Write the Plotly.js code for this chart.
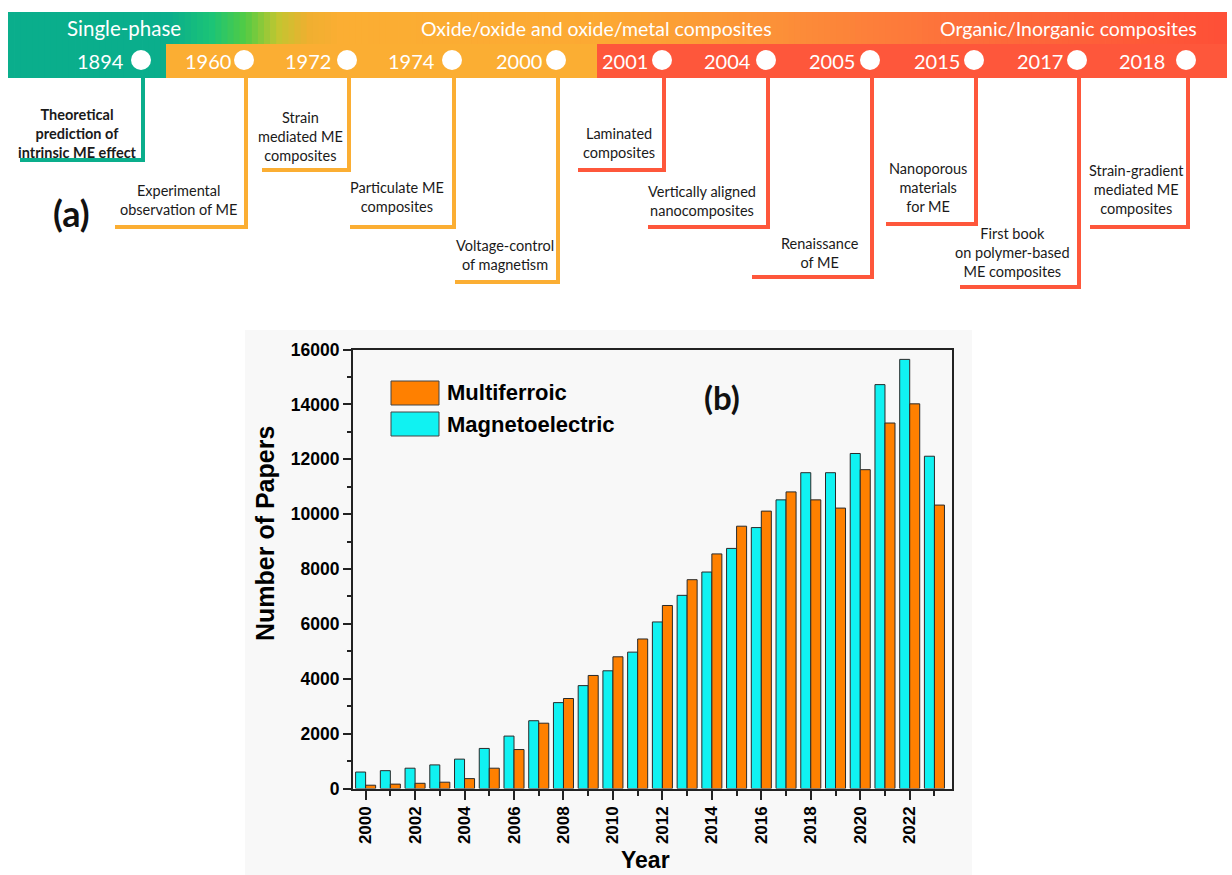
<!DOCTYPE html>
<html>
<head>
<meta charset="utf-8">
<script src="https://cdn.plot.ly/plotly-3.0.1.min.js"></script>
<style>html,body{margin:0;padding:0;background:#fff;}#chart{width:1232px;height:875px;}</style>
</head>
<body>
<div id="chart"></div>
<script>
// ---------- DATA ----------
const years = [2000,2001,2002,2003,2004,2005,2006,2007,2008,2009,2010,2011,2012,2013,2014,2015,2016,2017,2018,2019,2020,2021,2022,2023];
const magnetoelectric = [600,650,740,860,1070,1460,1910,2470,3130,3750,4290,4970,6070,7040,7890,8750,9510,10520,11510,11510,12210,14720,15640,12110];
const multiferroic = [120,160,190,230,360,740,1420,2380,3280,4120,4800,5450,6670,7610,8550,9560,10110,10810,10520,10220,11620,13320,14020,10330];
const seriesNames = ['Multiferroic','Magnetoelectric'];
const xTitle = 'Year';
const yTitle = 'Number of Papers';

const eras = ['Single-phase','Oxide/oxide and oxide/metal composites','Organic/Inorganic composites'];
const tlYears = ['1894','1960','1972','1974','2000','2001','2004','2005','2015','2017','2018'];
const tlEvents = ['Theoretical<br>prediction of<br>intrinsic ME effect','Experimental<br>observation of ME','Strain<br>mediated ME<br>composites','Particulate ME<br>composites','Voltage-control<br>of magnetism','Laminated<br>composites','Vertically aligned<br>nanocomposites','Renaissance<br>of ME','Nanoporous<br>materials<br>for ME','First book<br>on polymer-based<br>ME composites','Strain-gradient<br>mediated ME<br>composites'];
const tlEra = [0,1,1,1,1,2,2,2,2,2,2];

// ---------- LAYOUT (pixel positions / styles) ----------
const W = 1232, H = 875;
const px = x => x / W;
const py = y => 1 - y / H;
const eraColors = ['#0aae8c','#fbae33','#fe573b'];
const circX = [141,244,347,452,556,662,766,870,974,1077,1186];
const labX  = [100,208,308,412,519,625,727,832,937,1040,1142];
const lineBottom = [160,227,170,227,282,170,227,277,224,287,227];
const lineLeft = [20,115,262,350,455,578,648,752,886,960,1090];
const textX = [78,178,300,397,505,619,702,820,928,1012,1136];
const textY = [133,200,136,197,255,143,201,253,187,252,190];
const eraLabX = [124,596,1068];
const eraSize = [20.5,19.5,19.5];

const shapes = [];
const annotations = [];

// bar panel background
shapes.push({type:'rect',xref:'paper',yref:'paper',x0:px(245),x1:px(972),y0:py(875),y1:py(330),fillcolor:'#f8f8f8',line:{width:0},layer:'below'});

// gradient banner
const stops = [[8,'#0aae8c'],[170,'#0aae8c'],[212,'#1cc476'],[245,'#52cb44'],[278,'#c2c630'],[308,'#efaf30'],[340,'#fbae33'],[600,'#fca933'],[760,'#fc9338'],[950,'#fd713b'],[1227,'#fe4f37']];
function hex2rgb(h){return [parseInt(h.substr(1,2),16),parseInt(h.substr(3,2),16),parseInt(h.substr(5,2),16)];}
function colAt(x){
  for(let i=0;i<stops.length-1;i++){
    const a=stops[i],b=stops[i+1];
    if(x>=a[0]&&x<=b[0]){
      const t=(x-a[0])/(b[0]-a[0]||1);const ca=hex2rgb(a[1]),cb=hex2rgb(b[1]);
      return 'rgb('+ca.map((v,k)=>Math.round(v+(cb[k]-v)*t)).join(',')+')';
    }
  }
  return stops[stops.length-1][1];
}
const bx0=8,bx1=1227,nSl=200,stp=(bx1-bx0)/nSl;
for(let i=0;i<nSl;i++){
  const x0=bx0+i*stp;
  shapes.push({type:'rect',xref:'paper',yref:'paper',x0:px(x0),x1:px(Math.min(bx1,x0+stp+0.8)),y0:py(78),y1:py(12),fillcolor:colAt(x0+stp/2),line:{width:0},layer:'below'});
}
// lower band blocks
shapes.push({type:'rect',xref:'paper',yref:'paper',x0:px(166),x1:px(597),y0:py(78),y1:py(44),fillcolor:eraColors[1],line:{width:0},layer:'below'});
shapes.push({type:'rect',xref:'paper',yref:'paper',x0:px(597),x1:px(1227),y0:py(78),y1:py(44),fillcolor:eraColors[2],line:{width:0},layer:'below'});

eras.forEach((e,i)=>{
  annotations.push({xref:'paper',yref:'paper',x:px(eraLabX[i]),y:py(28),text:e,showarrow:false,xanchor:'center',yanchor:'middle',font:{family:'Lato, Open Sans, sans-serif',size:eraSize[i],color:'#fff'}});
});

tlYears.forEach((yr,i)=>{
  const c = eraColors[tlEra[i]];
  const lx = circX[i]+2;
  shapes.push({type:'circle',xref:'paper',yref:'paper',x0:px(circX[i]-10),x1:px(circX[i]+10),y0:py(70),y1:py(50),fillcolor:'#ffffff',line:{width:0}});
  shapes.push({type:'path',xref:'paper',yref:'paper',path:`M ${px(lx)},${py(77)} L ${px(lx)},${py(lineBottom[i])} L ${px(lineLeft[i])},${py(lineBottom[i])}`,line:{color:c,width:4}});
  annotations.push({xref:'paper',yref:'paper',x:px(labX[i]),y:py(61),text:yr,showarrow:false,xanchor:'center',yanchor:'middle',font:{family:'Lato, Open Sans, sans-serif',size:20,color:'#fff'}});
  annotations.push({xref:'paper',yref:'paper',x:px(textX[i]),y:py(textY[i]),text:(i===0?'<b>'+tlEvents[i]+'</b>':tlEvents[i]),showarrow:false,xanchor:'center',yanchor:'middle',align:'center',font:{family:'Lato, Open Sans, sans-serif',size:14.5,color:'#1a1a1a'}});
});

annotations.push({xref:'paper',yref:'paper',x:px(71),y:py(213),text:'<b>(a)</b>',showarrow:false,xanchor:'center',yanchor:'middle',font:{family:'Lato, Open Sans, sans-serif',size:36,color:'#111'}});
annotations.push({xref:'paper',yref:'paper',x:px(722),y:py(397),text:'<b>(b)</b>',showarrow:false,xanchor:'center',yanchor:'middle',font:{family:'Lato, Open Sans, sans-serif',size:33,color:'#111'}});

// manual legend
const legCols = ['#ff8000','#10f2f2'];
const legY = [393,424];
seriesNames.forEach((n,i)=>{
  shapes.push({type:'rect',xref:'paper',yref:'paper',x0:px(391),x1:px(439),y0:py(legY[i]+12),y1:py(legY[i]-12),fillcolor:legCols[i],line:{color:'#444',width:1}});
  annotations.push({xref:'paper',yref:'paper',x:px(445),y:py(legY[i]),text:'<b>'+n+'</b>',showarrow:false,xanchor:'left',yanchor:'middle',font:{family:'Liberation Sans, Arial, sans-serif',size:22,color:'#000'}});
});

// axis titles
annotations.push({xref:'paper',yref:'paper',x:px(645),y:py(860),text:'<b>'+xTitle+'</b>',showarrow:false,xanchor:'center',yanchor:'middle',font:{family:'Liberation Sans, Arial, sans-serif',size:23,color:'#000'}});
annotations.push({xref:'paper',yref:'paper',x:px(265),y:py(534),text:'<b>'+yTitle+'</b>',textangle:-90,showarrow:false,xanchor:'center',yanchor:'middle',font:{family:'Liberation Sans, Arial, sans-serif',size:25,color:'#000'}});

const traces = [
  {type:'bar',name:seriesNames[1],x:years,y:magnetoelectric,marker:{color:'#10f2f2',line:{color:'#2a2a2a',width:1}},showlegend:false,hoverinfo:'x+y'},
  {type:'bar',name:seriesNames[0],x:years,y:multiferroic,marker:{color:'#ff8000',line:{color:'#2a2a2a',width:1}},showlegend:false,hoverinfo:'x+y'}
];

const layout = {
  width:W,height:H,
  margin:{l:0,r:0,t:0,b:0},
  paper_bgcolor:'#ffffff',plot_bgcolor:'#f8f8f8',
  barmode:'group',bargap:0.19,bargroupgap:0,
  showlegend:false,
  xaxis:{domain:[px(353),px(952)],range:[1999.49,2023.71],tickmode:'linear',tick0:2000,dtick:2,
    ticks:'outside',ticklen:9,tickwidth:2,tickcolor:'#222',tickangle:-90,
    tickfont:{family:'Liberation Sans, Arial, sans-serif',size:17,color:'#000',weight:'bold'},
    minor:{dtick:1,tick0:2001,ticks:'outside',ticklen:5,tickwidth:2,tickcolor:'#222'},
    showline:true,linecolor:'#222',linewidth:2,mirror:true,showgrid:false,zeroline:false},
  yaxis:{domain:[py(788.5),py(349.5)],range:[0,16000],tickmode:'linear',tick0:0,dtick:2000,tickformat:'d',
    ticks:'outside',ticklen:8,tickwidth:2,tickcolor:'#222',
    tickfont:{family:'Liberation Sans, Arial, sans-serif',size:17.5,color:'#000',weight:'bold'},
    minor:{dtick:1000,ticks:'outside',ticklen:4,tickwidth:2,tickcolor:'#222'},
    showline:true,linecolor:'#222',linewidth:2,mirror:true,showgrid:false,zeroline:false},
  shapes:shapes,
  annotations:annotations
};
Plotly.newPlot('chart',traces,layout,{displayModeBar:false,staticPlot:true});
</script>
</body>
</html>
